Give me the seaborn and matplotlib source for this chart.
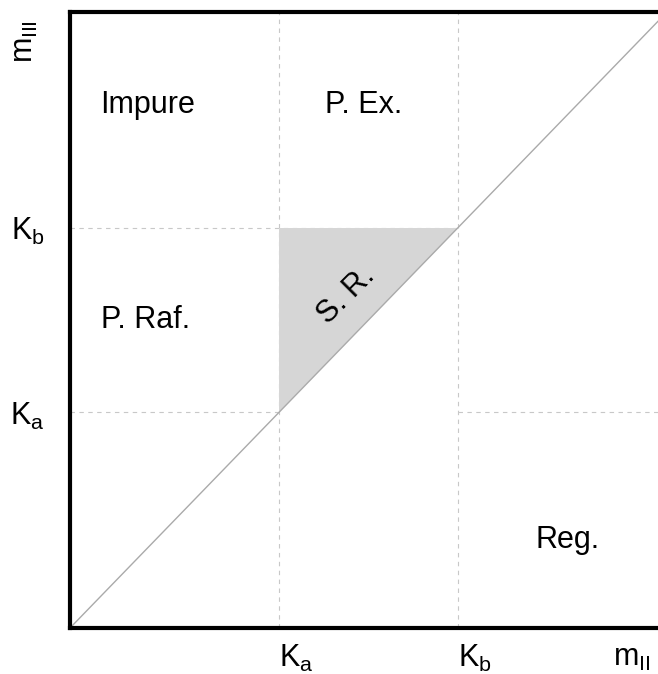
import matplotlib
matplotlib.use('Agg')
import matplotlib.pyplot as plt
import seaborn as sns
import pandas as pd

# thresholds and region labels
ka = 0.35
kb = 0.65
diag = pd.DataFrame({'x': [0.0, 1.0], 'y': [0.0, 1.0]})
tick_pos = [ka, kb, 0.91]
xtick_labels = [r'$\mathrm{K_a}$', r'$\mathrm{K_b}$', r'$\mathrm{m_{II}}$']
ytick_pos = [ka, kb]
ytick_labels = [r'$\mathrm{K_a}$', r'$\mathrm{K_b}$']
regions = ['Impure', 'P. Ex.', 'P. Raf.', 'Reg.']
region_x = [0.05, 0.427, 0.052, 0.779]
region_y = [0.849, 0.849, 0.50, 0.143]

sns.set_style('white')
plt.rcParams['font.family'] = ['Liberation Sans', 'DejaVu Sans']
plt.rcParams['mathtext.fontset'] = 'custom'
plt.rcParams['mathtext.rm'] = 'Liberation Sans'
plt.rcParams['mathtext.it'] = 'Liberation Sans'
plt.rcParams['text.color'] = 'black'
plt.rcParams['xtick.color'] = 'black'
plt.rcParams['ytick.color'] = 'black'

fig = plt.figure(figsize=(6.58, 6.74), dpi=100)
ax = fig.add_axes([70 / 658, 46 / 674, 597 / 658, 616 / 674])

# shaded S.R. triangle
ax.fill([ka, ka, kb], [ka, kb, kb], color='#d6d6d6', lw=0, zorder=1)

# dashed guide lines
gkw = dict(color='#c8c8c8', lw=0.8, ls=(0, (4, 4)), zorder=0)
ax.axvline(ka, **gkw)
ax.axvline(kb, **gkw)
ax.plot([0, kb], [kb, kb], **gkw)
ax.plot([0, ka], [ka, ka], **gkw)
ax.plot([kb, 1], [ka, ka], **gkw)

sns.lineplot(data=diag, x='x', y='y', color='#aaaaaa', lw=1, ax=ax, zorder=2)

for name, x, y in zip(regions, region_x, region_y):
    ax.text(x, y, name, fontsize=22, ha='left', va='center')
ax.text(0.463, 0.54, 'S. R.', fontsize=22, ha='center', va='center', rotation=45)

ax.set_xlim(0, 1)
ax.set_ylim(0, 1)
ax.set_xticks(tick_pos)
ax.set_xticklabels(xtick_labels, fontsize=22, ha='left')
ax.set_yticks(ytick_pos)
ax.set_yticklabels(ytick_labels, fontsize=22)
ax.tick_params(axis='x', length=0, pad=11)
ax.tick_params(axis='y', length=0, pad=18)
ax.set_xlabel('')
ax.set_ylabel('')

fig.text(25 / 658, 1 - 42 / 674, r'$\mathrm{m_{III}}$', fontsize=22, rotation=90,
         ha='center', va='center')

for side in ['left', 'bottom', 'top']:
    ax.spines[side].set_linewidth(3)
    ax.spines[side].set_color('black')
ax.spines['right'].set_visible(False)

fig.savefig('out.png', dpi=100)
